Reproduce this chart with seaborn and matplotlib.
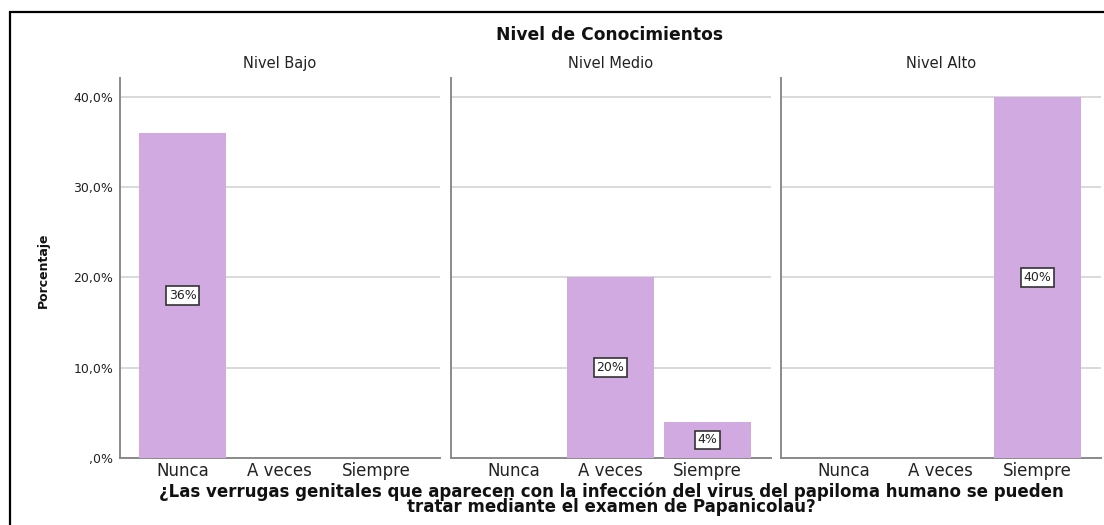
import pandas as pd
import matplotlib.pyplot as plt
import seaborn as sns
from matplotlib.patches import Rectangle

sns.set_style('white')
plt.rcParams['font.family'] = ['DejaVu Sans']

# datos
niveles = ['Nivel Bajo', 'Nivel Medio', 'Nivel Alto']
categorias = ['Nunca', 'A veces', 'Siempre']
pct_bajo = [36, 0, 0]
pct_medio = [0, 20, 4]
pct_alto = [0, 0, 40]
yticks = [0, 10, 20, 30, 40]
ytick_labels = [',0%', '10,0%', '20,0%', '30,0%', '40,0%']

valores = [pct_bajo, pct_medio, pct_alto]
color_barra = '#D1AAE2'

fig = plt.figure(figsize=(11.04, 5.25), dpi=100)

# marco (recortado a la derecha y abajo)
fig.patches.append(Rectangle((10 / 1104, -0.1), 1.2, 1 - 12 / 525 + 0.1,
                             transform=fig.transFigure, fill=False,
                             edgecolor='black', linewidth=1.6))

lefts = [120, 451, 781]
ancho = 320
abajo = 1 - 458 / 525
alto = (458 - 78) / 525

for i, (nivel, vals) in enumerate(zip(niveles, valores)):
    ax = fig.add_axes([lefts[i] / 1104, abajo, ancho / 1104, alto])
    df = pd.DataFrame({'cat': categorias, 'pct': vals})
    sns.barplot(data=df, x='cat', y='pct', ax=ax, color=color_barra,
                width=0.9, linewidth=0, saturation=1, zorder=3)
    ax.set_xlim(-0.65, 2.66)
    ax.set_ylim(0, 42.1)
    ax.set_yticks(yticks)
    ax.grid(axis='y', color='#D3D3D3', linewidth=1.2, zorder=0)
    ax.set_axisbelow(True)
    for s in ['top', 'right']:
        ax.spines[s].set_visible(False)
    for s in ['left', 'bottom']:
        ax.spines[s].set_color('#8A8A8A')
        ax.spines[s].set_linewidth(1.4)
    ax.tick_params(axis='both', length=0)
    ax.tick_params(axis='x', labelsize=12, pad=3, labelcolor='#222222')
    if i == 0:
        ax.set_yticklabels(ytick_labels, fontsize=9, color='#222222')
        ax.tick_params(axis='y', pad=5)
    else:
        ax.set_yticklabels([])
    ax.set_xlabel('')
    ax.set_ylabel('')
    ax.set_title(nivel, fontsize=10.5, pad=7, color='#222222')

    etiquetas = [f'{v}%' if v > 0 else '' for v in vals]
    ax.bar_label(ax.containers[0], labels=etiquetas, label_type='center',
                 fontsize=9, color='#222222',
                 bbox=dict(boxstyle='square,pad=0.22', fc='white',
                           ec='#333333', lw=1.2))

fig.text(610 / 1104, 1 - 35 / 525, 'Nivel de Conocimientos', ha='center',
         va='center', fontsize=12.3, fontweight='bold', color='#111111')
fig.text(43 / 1104, 1 - 270 / 525, 'Porcentaje', rotation=90, ha='center',
         va='center', fontsize=9, fontweight='bold', color='#111111')
fig.text(611 / 1104, 1 - 499 / 525,
         '¿Las verrugas genitales que aparecen con la infección del virus del papiloma humano se pueden\n'
         'tratar mediante el examen de Papanicolau?',
         ha='center', va='center', multialignment='center', fontsize=12,
         fontweight='bold', color='#111111', linespacing=0.78)

plt.savefig('out.png', dpi=100)
